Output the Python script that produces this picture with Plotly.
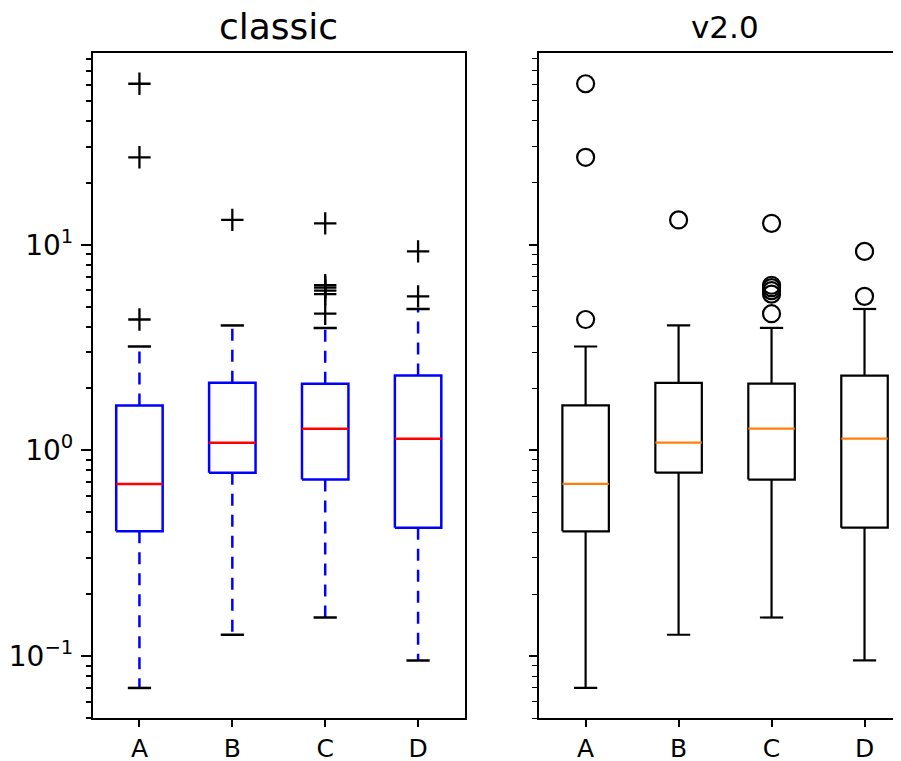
import plotly.graph_objects as go

categories = ["A", "B", "C", "D"]
q1 = [0.404, 0.779, 0.721, 0.421]
medians = [0.687, 1.09, 1.275, 1.14]
q3 = [1.655, 2.13, 2.11, 2.31]
whislo = [0.0700, 0.127, 0.154, 0.0953]
whishi = [3.20, 4.05, 3.94, 4.87]
fliers = [
    [60.6, 26.6, 4.33],
    [13.2],
    [12.7, 6.35, 6.18, 5.98, 5.75, 4.62],
    [9.28, 5.61],
]

major_vals = [0.1, 1, 10]
major_text = ["10<sup>−1</sup>", "10<sup>0</sup>", "10<sup>1</sup>"]
minor_vals = [m * 10 ** e for e in (-2, -1, 0, 1) for m in range(2, 10)]

BOX_HALF = 0.25
CAP_HALF = 0.125
FONT = "DejaVu Sans"

fig = go.Figure()


def add_boxes(xa, ya, style):
    if style == "classic":
        lw = 2.5
        box_c, med_c, wh_c, cap_c, wh_dash = "#0000ff", "#ff0000", "#0000ff", "#000000", "12px,9px"
        marker = dict(symbol="cross-thin", size=16, line=dict(color="black", width=2.3), color="black")
    else:
        lw = 2.2
        box_c, med_c, wh_c, cap_c, wh_dash = "#000000", "#ff7f0e", "#000000", "#000000", "solid"
        marker = dict(symbol="circle-open", size=17, line=dict(color="black", width=2.2), color="black")
    for i, cat in enumerate(categories):
        c = i + 1
        common = dict(xaxis=xa, yaxis=ya, mode="lines", showlegend=False, hoverinfo="skip")
        fig.add_trace(go.Scatter(x=[c, c], y=[q1[i], whislo[i]],
                                 line=dict(color=wh_c, width=lw, dash=wh_dash), **common))
        fig.add_trace(go.Scatter(x=[c, c], y=[q3[i], whishi[i]],
                                 line=dict(color=wh_c, width=lw, dash=wh_dash), **common))
        fig.add_trace(go.Scatter(x=[c - CAP_HALF, c + CAP_HALF, None, c - CAP_HALF, c + CAP_HALF],
                                 y=[whislo[i], whislo[i], None, whishi[i], whishi[i]],
                                 line=dict(color=cap_c, width=lw), **common))
        fig.add_trace(go.Scatter(x=[c - BOX_HALF, c + BOX_HALF, c + BOX_HALF, c - BOX_HALF, c - BOX_HALF],
                                 y=[q1[i], q1[i], q3[i], q3[i], q1[i]],
                                 line=dict(color=box_c, width=lw), **common))
        fig.add_trace(go.Scatter(x=[c - BOX_HALF, c + BOX_HALF], y=[medians[i], medians[i]],
                                 line=dict(color=med_c, width=lw), **common))
        fig.add_trace(go.Scatter(x=[c] * len(fliers[i]), y=fliers[i], mode="markers",
                                 marker=marker, xaxis=xa, yaxis=ya,
                                 showlegend=False, hoverinfo="skip"))


add_boxes("x", "y", "classic")
add_boxes("x2", "y2", "v2")

yrange = [-1.301, 1.932]
xtickfont = dict(family=FONT, size=25, color="black")
ytickfont = dict(family=FONT, size=28, color="black")

fig.update_layout(
    width=903, height=761,
    margin=dict(l=85.3, r=0, t=45.3, b=50.7),
    paper_bgcolor="white", plot_bgcolor="white",
    font=dict(family=FONT, color="black"),
    xaxis=dict(domain=[0, 0.4542], range=[0.5, 4.5], tickvals=[1, 2, 3, 4], ticktext=categories,
               showgrid=False, zeroline=False, showline=True, linecolor="black", linewidth=2.2,
               mirror=True, ticks="outside", ticklen=7, tickwidth=2.2, tickcolor="black",
               tickfont=xtickfont, ticklabelstandoff=0),
    yaxis=dict(type="log", range=yrange, tickvals=major_vals, ticktext=major_text,
               showgrid=False, zeroline=False, showline=True, linecolor="black", linewidth=2.2,
               mirror=True, ticks="outside", ticklen=10, tickwidth=2.2, tickcolor="black",
               tickfont=ytickfont, ticklabelstandoff=2,
               minor=dict(tickvals=minor_vals, ticks="outside", ticklen=5, tickwidth=1.6,
                          tickcolor="black", showgrid=False)),
    xaxis2=dict(domain=[0.5454, 1], range=[0.5, 4.5], tickvals=[1, 2, 3, 4], ticktext=categories,
                showgrid=False, zeroline=False, showline=True, linecolor="black", linewidth=2,
                mirror=True, ticks="outside", ticklen=7, tickwidth=2, tickcolor="black",
                tickfont=xtickfont, anchor="y2", ticklabelstandoff=0),
    yaxis2=dict(type="log", range=yrange, tickvals=major_vals, showticklabels=False,
                showgrid=False, zeroline=False, showline=True, linecolor="black", linewidth=2,
                mirror=False, ticks="outside", ticklen=8, tickwidth=2, tickcolor="black",
                anchor="x2", matches="y",
                minor=dict(tickvals=minor_vals, ticks="outside", ticklen=5, tickwidth=1.4,
                           tickcolor="black", showgrid=False)),
    annotations=[
        dict(text="classic", xref="paper", yref="paper", x=0.2271, y=1, yanchor="bottom",
             xanchor="center", yshift=4, showarrow=False, font=dict(family=FONT, size=36, color="black")),
        dict(text="v2.0", xref="paper", yref="paper", x=0.7727, y=1, yanchor="bottom",
             xanchor="center", yshift=6, showarrow=False, font=dict(family=FONT, size=31, color="black")),
    ],
)

fig.write_html("out.html")
